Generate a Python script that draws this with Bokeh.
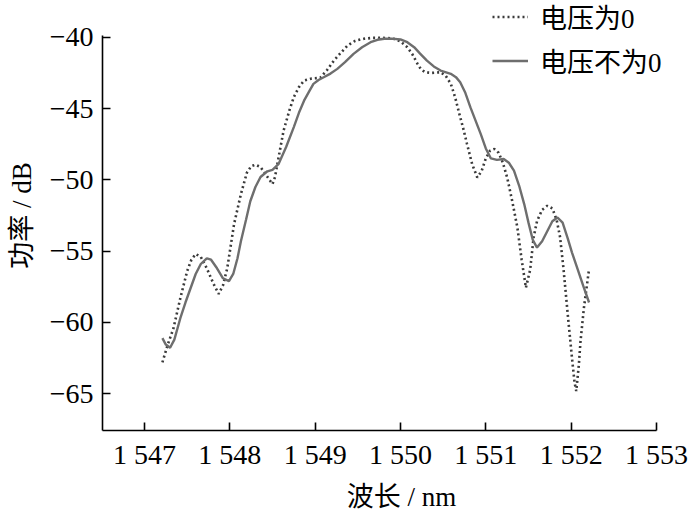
from bokeh.plotting import figure
from bokeh.models import Range1d, FixedTicker, Legend, LegendItem
from bokeh.embed import file_html
from bokeh.resources import INLINE

# 电压为0 (dotted)
wl_off = [1547.21, 1547.27, 1547.34, 1547.42, 1547.50, 1547.55, 1547.60, 1547.66,
          1547.73, 1547.81, 1547.87, 1547.92, 1547.97, 1548.05, 1548.13, 1548.20,
          1548.25, 1548.30, 1548.36, 1548.43, 1548.50, 1548.53, 1548.56, 1548.63,
          1548.70, 1548.75, 1548.81, 1548.87, 1548.96, 1549.06, 1549.14, 1549.22,
          1549.30, 1549.38, 1549.47, 1549.57, 1549.67, 1549.77, 1549.85, 1549.92,
          1550.00, 1550.08, 1550.14, 1550.20, 1550.24, 1550.29, 1550.37, 1550.47,
          1550.53, 1550.59, 1550.64, 1550.69, 1550.74, 1550.78, 1550.84, 1550.90,
          1550.95, 1551.00, 1551.05, 1551.10, 1551.15, 1551.20, 1551.25, 1551.31,
          1551.37, 1551.42, 1551.47, 1551.52, 1551.56, 1551.60, 1551.66, 1551.72,
          1551.78, 1551.83, 1551.87, 1551.91, 1551.96, 1552.01, 1552.04, 1552.06,
          1552.09, 1552.11, 1552.15, 1552.21]
pw_off = [-62.8, -61.6, -60.4, -58.3, -56.4, -55.6, -55.2, -55.4,
          -56.2, -57.3, -58.0, -57.4, -56.2, -53.1, -51.0, -49.5,
          -49.05, -48.94, -49.1, -49.7, -50.3, -49.8, -48.8, -46.55,
          -45.1, -44.2, -43.5, -43.04, -42.9, -42.85, -42.3, -41.64,
          -41.1, -40.58, -40.25, -40.11, -40.05, -40.04, -40.06, -40.11,
          -40.3, -40.7, -41.2, -41.87, -42.25, -42.46, -42.5, -42.46,
          -42.7, -43.27, -44.2, -45.38, -46.5, -47.49, -48.9, -49.83,
          -49.4, -48.5, -47.95, -47.84, -48.1, -48.8, -49.83, -51.5,
          -53.34, -55.6, -57.56, -56.3, -54.04, -52.9, -52.1, -51.82,
          -52.0, -52.8, -54.0, -56.2, -59.42, -62.5, -64.2, -64.81,
          -63.0, -61.3, -58.96, -56.26]

# 电压不为0 (solid)
wl_on = [1547.21, 1547.25, 1547.30, 1547.35, 1547.42, 1547.48, 1547.54, 1547.60,
         1547.66, 1547.73, 1547.78, 1547.85, 1547.92, 1547.99, 1548.04, 1548.09,
         1548.13, 1548.19, 1548.24, 1548.30, 1548.36, 1548.44, 1548.50, 1548.57,
         1548.66, 1548.75, 1548.81, 1548.87, 1548.93, 1548.98, 1549.04, 1549.10,
         1549.18, 1549.26, 1549.35, 1549.45, 1549.55, 1549.65, 1549.73, 1549.81,
         1549.90, 1550.00, 1550.08, 1550.16, 1550.23, 1550.31, 1550.39, 1550.47,
         1550.59, 1550.65, 1550.70, 1550.76, 1550.82, 1550.88, 1550.94, 1551.00,
         1551.06, 1551.13, 1551.21, 1551.27, 1551.33, 1551.39, 1551.45, 1551.50,
         1551.55, 1551.60, 1551.66, 1551.72, 1551.78, 1551.84, 1551.90, 1551.96,
         1552.01, 1552.07, 1552.14, 1552.21]
pw_on = [-61.1, -61.55, -61.77, -61.2, -59.7, -58.6, -57.6, -56.6,
         -55.9, -55.5, -55.6, -56.2, -56.9, -57.1, -56.6, -55.5,
         -54.3, -52.8, -51.5, -50.5, -49.8, -49.4, -49.3, -48.9,
         -47.7, -46.3, -45.3, -44.45, -43.8, -43.27, -43.0, -42.81,
         -42.55, -42.22, -41.75, -41.17, -40.7, -40.35, -40.18, -40.11,
         -40.1, -40.16, -40.35, -40.7, -41.15, -41.64, -42.05, -42.34,
         -42.57, -42.8, -43.16, -43.9, -44.92, -45.85, -46.78, -47.8,
         -48.5, -48.6, -48.54, -48.8, -49.36, -50.4, -51.7, -53.0,
         -54.2, -54.75, -54.3, -53.6, -52.9, -52.64, -53.0, -54.1,
         -55.1, -56.15, -57.4, -58.6]

x_ticks = [1547, 1548, 1549, 1550, 1551, 1552, 1553]
x_labels = ["1 547", "1 548", "1 549", "1 550", "1 551", "1 552", "1 553"]
y_ticks = [-40, -45, -50, -55, -60, -65]
y_labels = ["\u221240", "\u221245", "\u221250", "\u221255", "\u221260", "\u221265"]

FONT = "Liberation Serif, Noto Sans CJK SC"

# frame runs to the top/right edge so the legend is not clipped; axes are bounded
p = figure(width=700, height=522, output_backend="svg", toolbar_location=None,
           x_range=Range1d(1546.508, 1553.516), y_range=Range1d(-67.573, -37.427),
           min_border_left=102, min_border_right=0, min_border_top=0, min_border_bottom=92)
p.outline_line_color = None
p.xgrid.visible = False
p.ygrid.visible = False

r_off = p.line(wl_off, pw_off, line_color="#3a3a3a", line_width=2.6, line_dash="2 3")
r_on = p.line(wl_on, pw_on, line_color="#6e6e6e", line_width=2.4)

for ax in (p.xaxis[0], p.yaxis[0]):
    ax.axis_line_color = "black"
    ax.axis_line_width = 1.6
    ax.major_tick_line_color = "black"
    ax.major_tick_line_width = 1.6
    ax.major_tick_in = 8
    ax.major_tick_out = 0
    ax.minor_tick_line_color = None
    ax.major_label_text_font = FONT
    ax.major_label_text_font_size = "28px"
    ax.major_label_text_color = "black"
    ax.axis_label_text_font = FONT
    ax.axis_label_text_font_size = "27px"
    ax.axis_label_text_font_style = "normal"
    ax.axis_label_text_color = "black"

p.xaxis.ticker = FixedTicker(ticks=x_ticks)
p.xaxis.major_label_overrides = dict(zip(x_ticks, x_labels))
p.xaxis.axis_label = "波长 / nm"
p.xaxis.bounds = (1546.508, 1553.0)
p.xaxis.major_label_standoff = 8
p.xaxis.axis_label_standoff = 9

p.yaxis.ticker = FixedTicker(ticks=y_ticks)
p.yaxis.major_label_overrides = dict(zip(y_ticks, y_labels))
p.yaxis.axis_label = "功率 / dB"
p.yaxis.bounds = (-67.573, -39.85)
p.yaxis.major_label_standoff = 9
p.yaxis.axis_label_standoff = 10

legend = Legend(items=[LegendItem(label="电压为0", renderers=[r_off]),
                       LegendItem(label="电压不为0", renderers=[r_on])],
                location=(390, 350))
legend.label_text_font = FONT
legend.label_text_font_size = "27px"
legend.label_text_color = "black"
legend.glyph_width = 36
legend.glyph_height = 31
legend.label_height = 31
legend.label_standoff = 12
legend.spacing = 5
legend.padding = 0
legend.margin = 0
legend.border_line_color = None
legend.background_fill_alpha = 0
p.add_layout(legend)

open("out.html", "w").write(file_html(p, INLINE))
